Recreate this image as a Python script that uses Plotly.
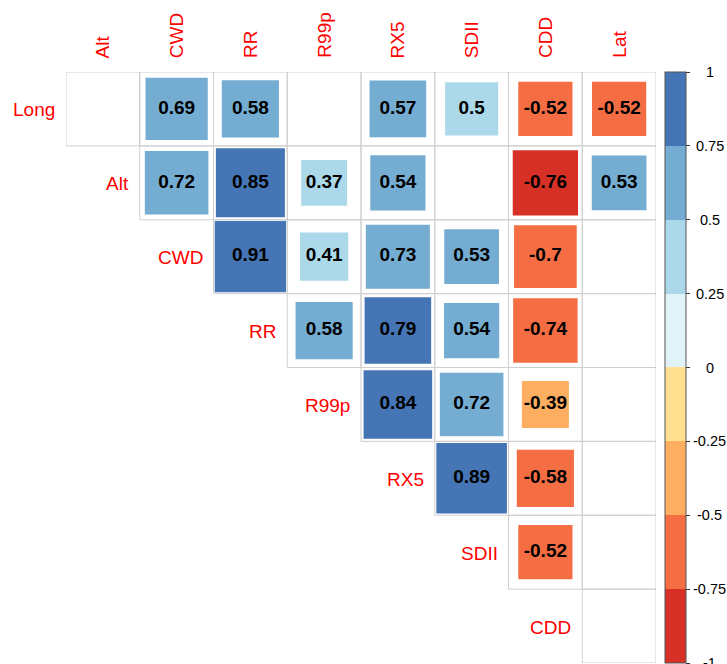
import math
import plotly.graph_objects as go

# ---- data ----
row_labels = ["Long", "Alt", "CWD", "RR", "R99p", "RX5", "SDII", "CDD"]
col_labels = ["Alt", "CWD", "RR", "R99p", "RX5", "SDII", "CDD", "Lat"]
# upper triangle, row i starts at column i; None = not shown (blank cell)
corr_long = [None, 0.69, 0.58, None, 0.57, 0.5, -0.52, -0.52]
corr_alt = [0.72, 0.85, 0.37, 0.54, None, -0.76, 0.53]
corr_cwd = [0.91, 0.41, 0.73, 0.53, -0.7, None]
corr_rr = [0.58, 0.79, 0.54, -0.74, None]
corr_r99p = [0.84, 0.72, -0.39, None]
corr_rx5 = [0.89, -0.58, None]
corr_sdii = [-0.52, None]
corr_cdd = [None]
corr_rows = [corr_long, corr_alt, corr_cwd, corr_rr, corr_r99p, corr_rx5, corr_sdii, corr_cdd]

cb_ticks = [-1, -0.75, -0.5, -0.25, 0, 0.25, 0.5, 0.75, 1]
cb_tick_text = ["-1", "-0.75", "-0.5", "-0.25", "0", "0.25", "0.5", "0.75", "1"]
bin_colors = ["#D73027", "#F46D43", "#FDAE61", "#FEE090",
              "#E0F3F8", "#ABD9E9", "#74ADD1", "#4575B4"]

# ---- layout constants ----
W, H = 727, 664
ML, MR, MT, MB = 66, 71, 72, 1
n = len(col_labels)
cell_px = (W - ML - MR) / n
FONT = "Liberation Sans, Arial, sans-serif"


def color_for(v):
    # bins (-1,-0.75], ..., (0.75,1]
    k = math.ceil((v + 1) / 0.25) - 1
    k = max(0, min(len(bin_colors) - 1, k))
    return bin_colors[k]


xs, ys, vals, sizes, colors, texts = [], [], [], [], [], []
shapes = []
for i, row in enumerate(corr_rows):
    for k, v in enumerate(row):
        j = i + k
        shapes.append(dict(type="rect", xref="x", yref="y", x0=j, x1=j + 1, y0=i, y1=i + 1,
                           line=dict(color="#CFCFCF", width=1), fillcolor="rgba(0,0,0,0)",
                           layer="below"))
        if v is None:
            continue
        xs.append(j + 0.5)
        ys.append(i + 0.5)
        vals.append(v)
        sizes.append(math.sqrt(abs(v)) * cell_px + 1)
        colors.append(color_for(v))
        texts.append(f"{v:g}")

fig = go.Figure()
fig.add_trace(go.Scatter(
    x=xs, y=ys, mode="markers+text", text=texts,
    textposition="middle center",
    textfont=dict(family=FONT, size=19, color="black", weight="bold"),
    marker=dict(symbol="square", size=sizes, color=colors, opacity=1, line=dict(width=0)),
    hoverinfo="skip", showlegend=False, cliponaxis=False,
))

# colorbar-only trace
n_bins = len(bin_colors)
colorscale = []
for b, c in enumerate(bin_colors):
    colorscale.append([b / n_bins, c])
    colorscale.append([(b + 1) / n_bins, c])
fig.add_trace(go.Scatter(
    x=[None, None], y=[None, None], mode="markers", showlegend=False, hoverinfo="skip",
    marker=dict(color=[-1, 1], cmin=-1, cmax=1, colorscale=colorscale, showscale=True,
                colorbar=dict(thickness=21, thicknessmode="pixels", len=1, lenmode="fraction",
                              y=0.5, yanchor="middle", x=(665 - ML) / (W - ML - MR),
                              xanchor="left", xpad=0, ypad=0,
                              outlinewidth=1, outlinecolor="#555555",
                              ticks="outside", ticklen=4, tickcolor="#333333",
                              tickvals=cb_ticks, showticklabels=False)),
))

annotations = []
for i, lab in enumerate(row_labels):
    annotations.append(dict(x=i, y=i + 0.5, xref="x", yref="y", text=lab, showarrow=False,
                            xanchor="right", yanchor="middle", xshift=-9, yshift=-1,
                            font=dict(family=FONT, size=19, color="red")))
for j, lab in enumerate(col_labels):
    annotations.append(dict(x=j + 0.5, y=0, xref="x", yref="y", text=lab, showarrow=False,
                            textangle=-90, xanchor="center", yanchor="bottom", yshift=12,
                            font=dict(family=FONT, size=19, color="red")))
for v, t in zip(cb_ticks, cb_tick_text):
    annotations.append(dict(x=(710 - ML) / (W - ML - MR), y=(v + 1) / 2, xref="paper", yref="paper",
                            text=t, showarrow=False, xanchor="center", yanchor="middle",
                            font=dict(family=FONT, size=14.5, color="black")))

fig.update_layout(
    width=W, height=H,
    margin=dict(l=ML, r=MR, t=MT, b=MB, pad=0, autoexpand=False),
    paper_bgcolor="white", plot_bgcolor="white",
    xaxis=dict(range=[0, n], visible=False, fixedrange=True),
    yaxis=dict(range=[n, 0], visible=False, fixedrange=True),
    shapes=shapes, annotations=annotations,
)

fig.write_html("out.html", config={"displayModeBar": False},
               post_script="document.body.style.margin='0';document.body.style.overflow='hidden';")
